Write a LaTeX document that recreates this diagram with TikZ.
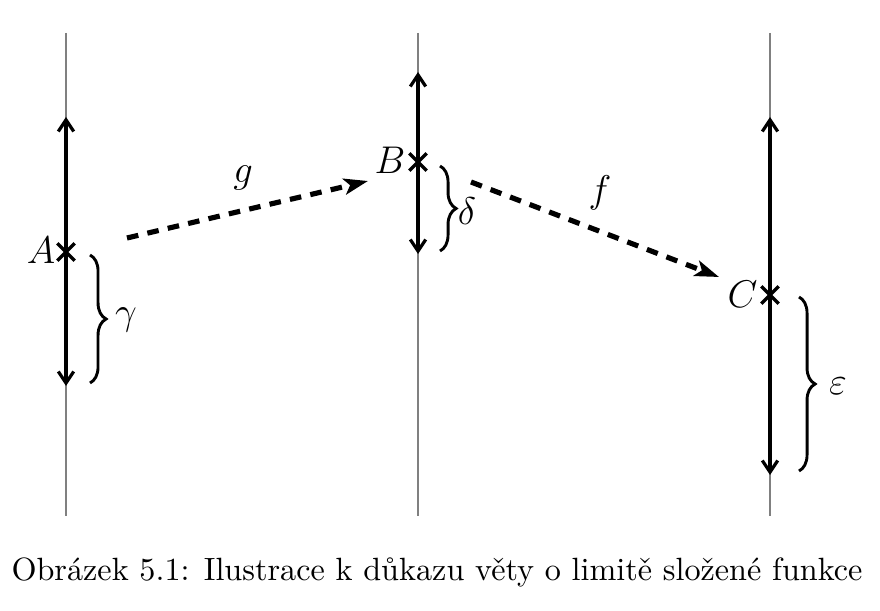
\documentclass[tikz,border=0pt]{standalone}
\usepackage{fontspec}
\usetikzlibrary{arrows.meta,decorations.pathreplacing,shapes.misc}
\begin{document}
\begin{tikzpicture}[x=0.3106pt,y=-0.3106pt,
  axisline/.style={gray, line width=0.4pt},
  interval/.style={line width=1pt, {Straight Barb[length=3.6pt,width=4.8pt]}-{Straight Barb[length=3.6pt,width=4.8pt]}},
  mapping/.style={line width=1.6pt, dash pattern=on 3.6pt off 2.9pt, -{Stealth[length=7.5pt,width=5pt,inset=1.8pt]}},
  pointmark/.style={cross out, draw, line width=1pt, minimum size=4.4pt, inner sep=0pt},
  bracestyle/.style={line width=0.9pt, decorate, decoration={brace, amplitude=5pt}},
  lbl/.style={inner sep=0pt, font=\large}]
\useasboundingbox (0,0) rectangle (880,611);
% axes
\coordinate (a1) at (66,33);  \coordinate (a2) at (66,516);
\coordinate (b1) at (418,33); \coordinate (b2) at (418,516);
\coordinate (c1) at (770,33); \coordinate (c2) at (770,516);
\draw[axisline] (a1) -- (a2);
\draw[axisline] (b1) -- (b2);
\draw[axisline] (c1) -- (c2);
% intervals
\coordinate (at) at (66,117); \coordinate (ab) at (66,386);
\coordinate (bt) at (418,72); \coordinate (bb) at (418,254);
\coordinate (ct) at (770,117); \coordinate (cb) at (770,475);
\draw[interval] (ab) -- (at);
\draw[interval] (bb) -- (bt);
\draw[interval] (cb) -- (ct);
% points
\node[pointmark] (pa) at (66,252) {};
\node[pointmark] (pb) at (418,162) {};
\node[pointmark] (pc) at (770,295) {};
\node[lbl, anchor=east] (la) at (56,250) {$A$};
\node[lbl, anchor=east] (lb) at (406,160) {$B$};
\node[lbl, anchor=east] (lc) at (758,294) {$C$};
% braces
\coordinate (ga1) at (90,255);  \coordinate (ga2) at (90,383);
\coordinate (de1) at (440,166); \coordinate (de2) at (440,251);
\coordinate (ep1) at (799,297); \coordinate (ep2) at (799,471);
\draw[bracestyle] (ga1) -- (ga2);
\draw[bracestyle] (de1) -- (de2);
\draw[bracestyle] (ep1) -- (ep2);
\node[lbl] (gam) at (126,320) {$\gamma$};
\node[lbl] (del) at (467,211) {$\delta$};
\node[lbl] (eps) at (838,386) {$\varepsilon$};
% mappings
\coordinate (g1) at (127,238); \coordinate (g2) at (368,181);
\coordinate (f1) at (471,182); \coordinate (f2) at (719,277);
\draw[mapping] (g1) -- (g2);
\draw[mapping] (f1) -- (f2);
\node[lbl] (lg) at (243,178) {$g$};
\node[lbl] (lf) at (600,193) {$f$};
% caption
\node[inner sep=0pt] (cap) at (437,572) {Obrázek 5.1: Ilustrace k důkazu věty o limitě složené funkce};
\end{tikzpicture}
\end{document}
